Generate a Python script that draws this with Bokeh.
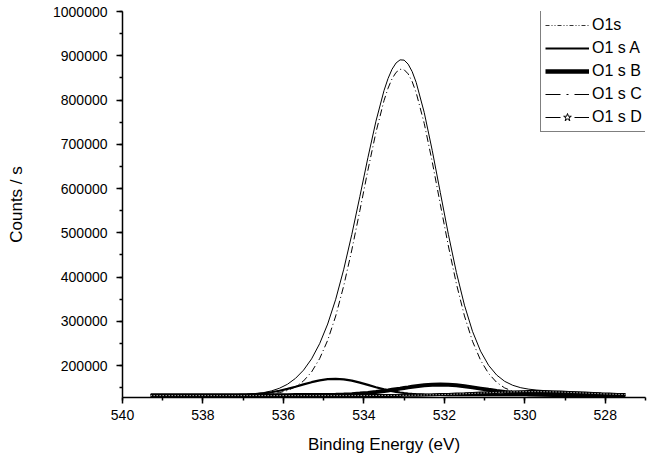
from bokeh.plotting import figure
from bokeh.models import (Range1d, SingleIntervalTicker, BasicTickFormatter,
                          Legend, LegendItem, ColumnDataSource)
from bokeh.embed import file_html
from bokeh.resources import INLINE

# Binding energy grid (eV)
energy = [539.3, 539.1, 538.9, 538.7, 538.5, 538.3, 538.1, 537.9, 537.7, 537.5,
          537.3, 537.1, 536.9, 536.7, 536.5, 536.3, 536.1, 535.9, 535.7, 535.5,
          535.3, 535.1, 534.9, 534.7, 534.5, 534.3, 534.1, 533.9, 533.7, 533.5,
          533.4, 533.3, 533.2, 533.1, 533.0, 532.9, 532.8, 532.7, 532.5, 532.3,
          532.1, 531.9, 531.7, 531.5,
          531.3, 531.1, 530.9, 530.7, 530.5, 530.3, 530.1, 529.9, 529.7, 529.5,
          529.3, 529.1, 528.9, 528.7, 528.5, 528.3, 528.1, 527.9, 527.7, 527.5]

# O1s envelope
o1s = [133000, 133000, 133000, 133000, 133000, 133000, 133000, 133000, 133100, 133200,
       133400, 133900, 134700, 136100, 138600, 142500, 148600, 157600, 170900, 189500,
       215000, 249300, 293700, 349800, 417700, 496200, 582000, 669800, 752200, 821300,
       848500, 869500, 883700, 890700, 890100, 881100, 864200, 839800, 771800, 685600,
       590800, 496500, 410200, 336300,
       277200, 232500, 200400, 178500, 164200, 155300, 149800, 146500, 144500, 143200,
       142000, 141200, 140400, 139600, 138700, 137900, 137100, 136400, 135700, 135200]

o1s_a = [133000, 133000, 133000, 133000, 133000, 133000, 133000, 133000, 133100, 133200,
         133400, 133700, 134400, 135400, 137100, 139600, 142900, 147100, 152000, 157300,
         162300, 166500, 169200, 170000, 168800, 165700, 161300, 156200, 151000, 146200,
         144100, 142100, 140500, 139000, 137800, 136700, 135900, 135200, 134200, 133600,
         133300, 133200, 133100, 133000,
         133000, 133000, 133000, 133000, 133000, 133000, 133000, 133000, 133000, 133000,
         133000, 133000, 133000, 133000, 133000, 133000, 133000, 133000, 133000, 133000]

o1s_b = [133000, 133000, 133000, 133000, 133000, 133000, 133000, 133000, 133000, 133000,
         133000, 133000, 133000, 133000, 133000, 133000, 133000, 133000, 133100, 133100,
         133200, 133300, 133600, 133900, 134500, 135300, 136500, 138000, 140000, 142300,
         143600, 145000, 146400, 147800, 149300, 150600, 152000, 153200, 155200, 156500,
         157000, 156500, 155200, 153200,
         150600, 147800, 145000, 142300, 140000, 138000, 136500, 135300, 134500, 133900,
         133600, 133300, 133200, 133100, 133000, 133000, 133000, 133000, 133000, 133000]

o1s_c = [133000, 133000, 133000, 133000, 133000, 133000, 133000, 133000, 133000, 133000,
         133000, 133100, 133300, 133700, 134500, 135900, 138700, 143500, 151800, 165100,
         185500, 215500, 257000, 311900, 380400, 461100, 550100, 641400, 727100, 798600,
         826500, 848000, 862400, 869400, 868500, 859100, 841600, 816500, 747100, 659800,
         564300, 470100, 384500, 312000,
         254700, 212000, 181900, 161900, 149300, 141800, 137500, 135200, 134000, 133500,
         133200, 133000, 133000, 133000, 133000, 133000, 133000, 133000, 133000, 133000]

o1s_d = [132000, 132000, 132000, 132000, 132000, 132000, 132000, 132000, 132000, 132000,
         132000, 132000, 132000, 132000, 132000, 132000, 132000, 132000, 132000, 132000,
         132000, 132000, 132000, 132000, 132000, 132000, 132100, 132100, 132200, 132200,
         132300, 132300, 132400, 132500, 132600, 132700, 132800, 132900, 133300, 133700,
         134200, 134700, 135400, 136100,
         136900, 137700, 138500, 139200, 139900, 140400, 140800, 141000, 141000, 140800,
         140400, 139900, 139200, 138500, 137700, 136900, 136100, 135400, 134700, 134200]

labels = ["O1s", "O1 s A", "O1 s B", "O1 s C", "O1 s D"]

FONT = "Liberation Sans"

p = figure(width=660, height=458, output_backend="svg", toolbar_location=None,
           x_range=Range1d(540, 527), y_range=Range1d(127700, 1000000),
           min_border_left=122, min_border_right=15, min_border_top=11,
           min_border_bottom=61)
p.outline_line_color = None
p.xgrid.visible = False
p.ygrid.visible = False
p.background_fill_color = "white"
p.border_fill_color = "white"

src = ColumnDataSource(dict(x=energy, env=o1s, a=o1s_a, b=o1s_b, c=o1s_c, d=o1s_d))

p.line("x", "env", source=src, line_color="black", line_width=1)
p.line("x", "a", source=src, line_color="black", line_width=2.2)
p.line("x", "b", source=src, line_color="black", line_width=4)
p.line("x", "c", source=src, line_color="black", line_width=1, line_dash="7 3 1 3")
p.line("x", "d", source=src, line_color="black", line_width=3)
p.line("x", "d", source=src, line_color="white", line_width=1, line_dash="1 2")

# legend-only glyphs (kept outside the visible range)
dummy = ColumnDataSource(dict(x=[600, 601], y=[0, 0]))
r0 = p.line("x", "y", source=dummy, line_color="#333333", line_width=1, line_dash="4 2 1 2 1 2")
r1 = p.line("x", "y", source=dummy, line_color="black", line_width=2)
r2 = p.line("x", "y", source=dummy, line_color="black", line_width=4.5)
r3 = p.line("x", "y", source=dummy, line_color="black", line_width=1.2, line_dash="15 6 2 6")
r4 = p.line("x", "y", source=dummy, line_color="black", line_width=1.2, line_dash="15 14")
r5 = p.scatter("x", "y", source=dummy, marker="star", size=8, fill_color="white",
               line_color="black", line_width=1)

legend = Legend(items=[LegendItem(label=labels[0], renderers=[r0]),
                       LegendItem(label=labels[1], renderers=[r1]),
                       LegendItem(label=labels[2], renderers=[r2]),
                       LegendItem(label=labels[3], renderers=[r3]),
                       LegendItem(label=labels[4], renderers=[r4, r5])],
                location=(418, 265), orientation="vertical",
                glyph_width=44, glyph_height=20, label_height=20, label_standoff=3,
                spacing=3, padding=4, margin=0,
                border_line_color="black", border_line_width=1,
                background_fill_color="white", background_fill_alpha=1,
                label_text_font=FONT, label_text_font_size="16px",
                label_text_color="black")
p.add_layout(legend)

for ax in (p.xaxis[0], p.yaxis[0]):
    ax.axis_line_color = "black"
    ax.axis_line_width = 1.5
    ax.major_tick_line_color = "black"
    ax.major_tick_line_width = 1.5
    ax.minor_tick_line_color = "black"
    ax.minor_tick_line_width = 1.5
    ax.major_tick_in = 0
    ax.major_tick_out = 6
    ax.minor_tick_in = 0
    ax.minor_tick_out = 3
    ax.major_label_text_font = FONT
    ax.major_label_text_font_size = "14px"
    ax.major_label_text_color = "black"
    ax.axis_label_text_font = FONT
    ax.axis_label_text_font_size = "17px"
    ax.axis_label_text_font_style = "normal"
    ax.axis_label_text_color = "black"

p.xaxis[0].ticker = SingleIntervalTicker(interval=2, num_minor_ticks=2)
p.yaxis[0].ticker = SingleIntervalTicker(interval=100000, num_minor_ticks=2)
p.yaxis[0].formatter = BasicTickFormatter(use_scientific=False)
p.xaxis[0].axis_label = "Binding Energy (eV)"
p.yaxis[0].axis_label = "Counts / s"
p.xaxis[0].major_label_standoff = 6
p.yaxis[0].major_label_standoff = 9
p.xaxis[0].axis_label_standoff = 12
p.yaxis[0].axis_label_standoff = 24

open("out.html", "w").write(file_html(p, INLINE))
